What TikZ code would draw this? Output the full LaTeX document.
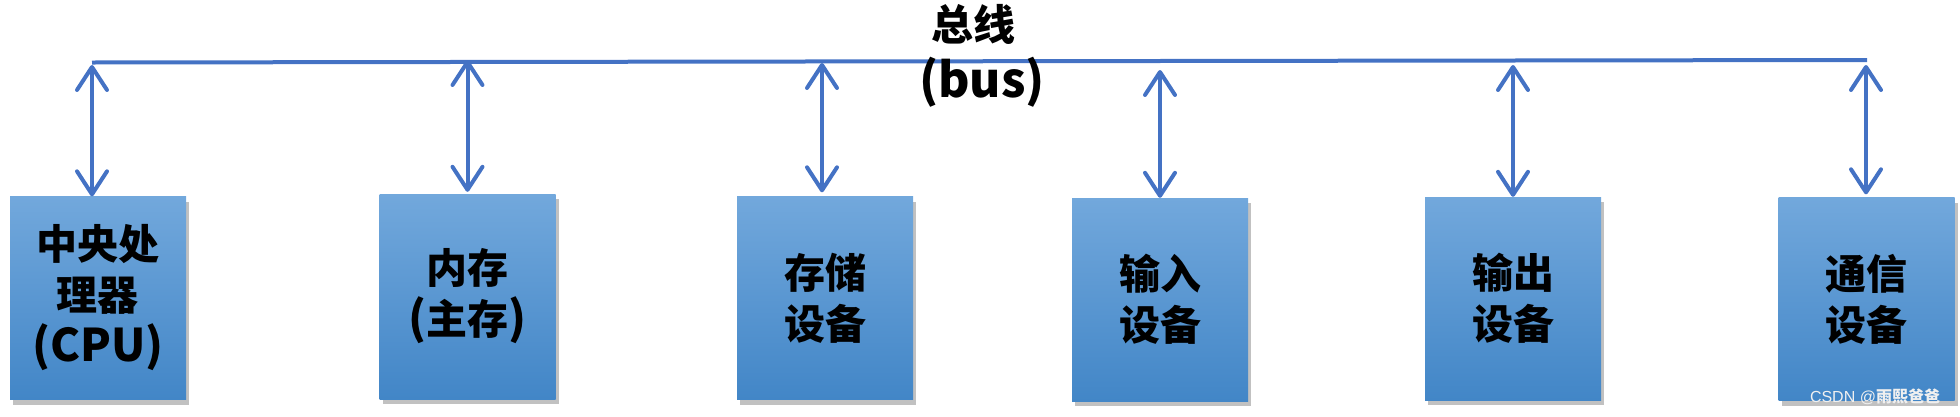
\documentclass[tikz,border=0pt]{standalone}
\usepackage{fontspec}
\setmainfont{Liberation Sans}
\newfontfamily\cjk{Noto Sans CJK SC}
\usetikzlibrary{arrows.meta,shadows}
\definecolor{busblue}{RGB}{68,114,196}
\definecolor{boxtop}{RGB}{114,168,220}
\definecolor{boxbot}{RGB}{66,134,199}
\newcommand{\zh}[1]{{\cjk\bfseries #1}}
\newcommand{\lat}[1]{{\fontsize{45}{51}\selectfont #1}}
\tikzset{
  unitbox/.style={rectangle, inner sep=0pt, minimum width=176pt, minimum height=203pt,
    top color=boxtop, bottom color=boxbot, draw=none, align=center,
    font=\fontsize{41}{51}\selectfont\cjk\bfseries, text=black,
    drop shadow={shadow xshift=3pt, shadow yshift=-5pt, opacity=0.35, fill=black!70}},
  busline/.style={draw=busblue, line width=4pt},
  busarrow/.style={draw=busblue, line width=4pt, line cap=round,
    {Straight Barb[length=23pt, width=30pt, line cap=round, round]}-{Straight Barb[length=23pt, width=30pt, line cap=round, round]}},
  buslabel/.style={font=\fontsize{42}{50}\selectfont\cjk\bfseries, inner sep=0pt},
  watermark/.style={font=\fontsize{16}{18}\selectfont, text=white!88!gray, inner sep=0pt}
}
\begin{document}
\begin{tikzpicture}[x=1pt,y=-1pt]
\useasboundingbox (0,0) rectangle (1960,416);
% bus
\coordinate (busL) at (92,62.5);
\coordinate (busR) at (1867,60);
\draw[busline] (busL) -- (busR);
% boxes
\node[unitbox] (cpu) at (98,298) {中央处\\理器\\\lat{(CPU)}};
\node[unitbox, minimum height=205pt] (mem) at (467.5,296.5) {内存\\\lat{(}主存\lat{)}};
\node[unitbox] (sto) at (825,298) {存储\\设备};
\node[unitbox] (inp) at (1160,299.5) {输入\\设备};
\node[unitbox] (out) at (1513,298.5) {输出\\设备};
\node[unitbox] (com) at (1866.5,299) {通信\\设备};
% arrow top ends
\coordinate (t1) at (92,65);
\coordinate (t2) at (467.5,60);
\coordinate (t3) at (822,63);
\coordinate (t4) at (1160,70);
\coordinate (t5) at (1513,65);
\coordinate (t6) at (1866,65);
\draw[busarrow] (t1) -- (t1 |- cpu.north);
\draw[busarrow] (t2) -- ([yshift=2pt]t2 |- mem.north);
\draw[busarrow] (t3) -- ([yshift=4pt]t3 |- sto.north);
\draw[busarrow] (t4) -- (t4 |- inp.north);
\draw[busarrow] (t5) -- (t5 |- out.north);
\draw[busarrow] (t6) -- ([yshift=3pt]t6 |- com.north);
% labels
\node[buslabel] (busname) at (973,24) {总线};
\node[buslabel, font=\fontsize{48}{50}\selectfont\cjk\bfseries] (busen) at (982,82) {(bus)};
\node[watermark] (wm) at (1875,397) {CSDN @\zh{雨熙爸爸}};
\end{tikzpicture}
\end{document}
